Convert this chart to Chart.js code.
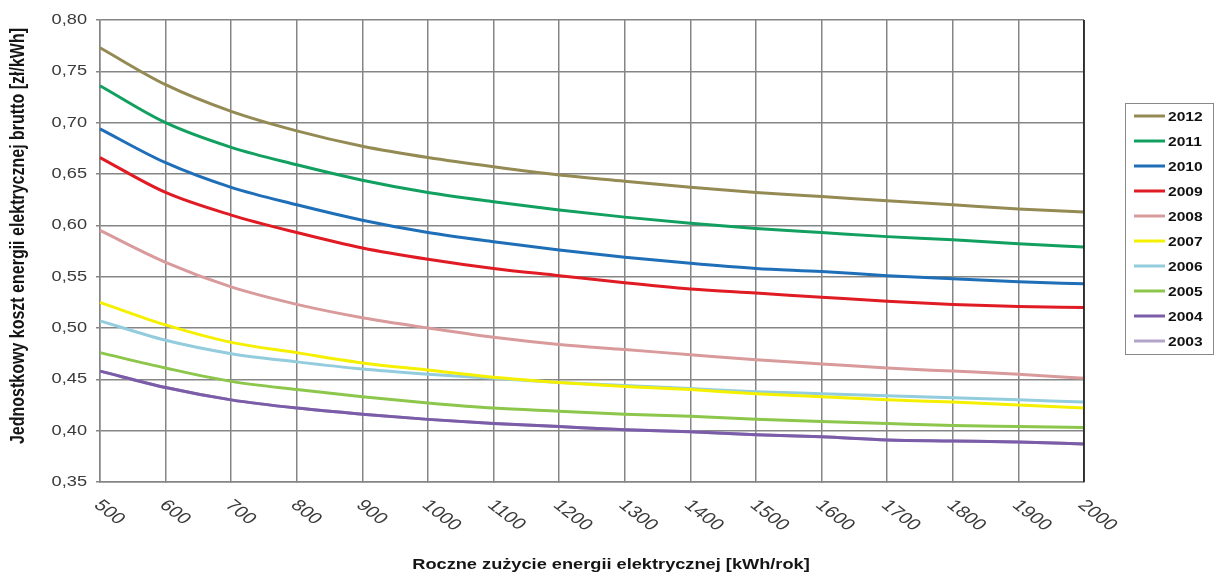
<!DOCTYPE html>
<html>
<head>
<meta charset="utf-8">
<script src="https://cdn.jsdelivr.net/npm/chart.js@4.4.0/dist/chart.umd.min.js"></script>
<style>
    html, body { margin: 0; padding: 0; background: #fff; }
    #wrap { width: 1215px; height: 576px; }
</style>
</head>
<body>
<div id="wrap"><canvas id="koszt"></canvas></div>
<script>
// Roczne zużycie [kWh/rok]
const zuzycie = [500, 600, 700, 800, 900, 1000, 1100, 1200, 1300, 1400, 1500, 1600, 1700, 1800, 1900, 2000];

// Jednostkowy koszt brutto [zł/kWh] dla kolejnych lat
const r2012 = [0.773, 0.737, 0.711, 0.692, 0.677, 0.666, 0.657, 0.649, 0.643, 0.637, 0.632, 0.628, 0.624, 0.620, 0.616, 0.613];
const r2011 = [0.736, 0.700, 0.676, 0.659, 0.644, 0.632, 0.623, 0.615, 0.608, 0.602, 0.597, 0.593, 0.589, 0.586, 0.582, 0.579];
const r2010 = [0.694, 0.661, 0.637, 0.620, 0.605, 0.593, 0.584, 0.576, 0.569, 0.563, 0.558, 0.555, 0.551, 0.548, 0.545, 0.543];
const r2009 = [0.666, 0.632, 0.610, 0.593, 0.578, 0.567, 0.558, 0.551, 0.544, 0.538, 0.534, 0.530, 0.526, 0.523, 0.521, 0.520];
const r2008 = [0.595, 0.564, 0.540, 0.523, 0.510, 0.500, 0.491, 0.484, 0.479, 0.474, 0.469, 0.465, 0.461, 0.458, 0.455, 0.451];
const r2007 = [0.525, 0.503, 0.486, 0.476, 0.466, 0.459, 0.452, 0.447, 0.443, 0.440, 0.436, 0.433, 0.430, 0.428, 0.425, 0.422];
const r2006 = [0.507, 0.488, 0.475, 0.467, 0.460, 0.455, 0.451, 0.447, 0.444, 0.441, 0.438, 0.436, 0.434, 0.432, 0.430, 0.428];
const r2005 = [0.476, 0.461, 0.448, 0.440, 0.433, 0.427, 0.422, 0.419, 0.416, 0.414, 0.411, 0.409, 0.407, 0.405, 0.404, 0.403];
const r2004 = [0.458, 0.442, 0.430, 0.422, 0.416, 0.411, 0.407, 0.404, 0.401, 0.399, 0.396, 0.394, 0.391, 0.390, 0.389, 0.387];
const r2003 = [0.458, 0.442, 0.430, 0.422, 0.416, 0.411, 0.407, 0.404, 0.401, 0.399, 0.396, 0.394, 0.391, 0.390, 0.389, 0.387];

const lata = ['2012', '2011', '2010', '2009', '2008', '2007', '2006', '2005', '2004', '2003'];
const serie = [r2012, r2011, r2010, r2009, r2008, r2007, r2006, r2005, r2004, r2003];
const kolory = ['#948a54', '#12a060', '#1f6fb8', '#e01b24', '#d99a9c', '#f5f000', '#93cddd', '#8cc64a', '#7a5ca8', '#b3a4c9'];

// Etykiety osi Y (co 0,05)
const osYTicks = [0.35, 0.40, 0.45, 0.50, 0.55, 0.60, 0.65, 0.70, 0.75, 0.80];

const FONT = '"Liberation Sans", Arial, sans-serif';
const STRETCH = 1.3; // oryginał jest rozciągnięty w poziomie

// Tekst rozciągnięty w poziomie, opcjonalnie obrócony
function tekst(ctx, s, x, y, font, align, kat) {
    ctx.save();
    ctx.translate(x, y);
    ctx.scale(STRETCH, 1);
    if (kat) ctx.rotate(kat);
    ctx.font = font;
    ctx.textAlign = align;
    ctx.textBaseline = 'middle';
    ctx.fillText(s, 0, 0);
    ctx.restore();
}

// Opisy osi i etykiety (rysowane ręcznie, bo są rozciągnięte / pochylone w dół)
const opisyOsi = {
    id: 'opisyOsi',
    afterDraw(chart) {
        const ctx = chart.ctx;
        const x = chart.scales.x;
        const y = chart.scales.y;
        const bottom = chart.chartArea.bottom;
        ctx.save();

        ctx.fillStyle = '#3a3a3a';
        osYTicks.forEach(v => {
            tekst(ctx, v.toFixed(2).replace('.', ','), 87, y.getPixelForValue(v), '14px ' + FONT, 'right');
        });

        zuzycie.forEach((v, i) => {
            tekst(ctx, String(v), x.getPixelForValue(i) - 3, bottom + 21, '16px ' + FONT, 'left', Math.PI / 4);
        });

        ctx.fillStyle = '#151515';
        tekst(ctx, 'Roczne zużycie energii elektrycznej [kWh/rok]', 611, 565, 'bold 14px ' + FONT, 'center');
        tekst(ctx, 'Jednostkowy koszt energii elektrycznej brutto [zł/kWh]', 18, 236, 'bold 16px ' + FONT, 'center', -Math.PI / 2);
        ctx.restore();
    }
};

// Legenda w ramce po prawej
const legendaBox = {
    id: 'legendaBox',
    afterDraw(chart) {
        const ctx = chart.ctx;
        const left = 1125, top = 103, w = 88, h = 251;
        ctx.save();
        ctx.fillStyle = '#fff';
        ctx.fillRect(left, top, w, h);
        ctx.strokeStyle = '#888';
        ctx.lineWidth = 1;
        ctx.strokeRect(left + 0.5, top + 0.5, w, h);
        chart.data.datasets.forEach((ds, i) => {
            const yy = top + 13 + i * 25;
            ctx.strokeStyle = ds.borderColor;
            ctx.lineWidth = 3;
            ctx.beginPath();
            ctx.moveTo(left + 9, yy);
            ctx.lineTo(left + 40, yy);
            ctx.stroke();
            ctx.fillStyle = '#111';
            ctx.save();
            ctx.translate(left + 43, yy + 1);
            ctx.scale(1.2, 1);
            ctx.font = 'bold 13px ' + FONT;
            ctx.textBaseline = 'middle';
            ctx.fillText(ds.label, 0, 0);
            ctx.restore();
        });
        ctx.restore();
    }
};

// Czarna prawa krawędź obszaru wykresu
const ramka = {
    id: 'ramka',
    afterDatasetsDraw(chart) {
        const a = chart.chartArea;
        const ctx = chart.ctx;
        ctx.save();
        ctx.strokeStyle = '#111';
        ctx.lineWidth = 1.5;
        ctx.beginPath();
        ctx.moveTo(a.right, a.top);
        ctx.lineTo(a.right, a.bottom);
        ctx.stroke();
        ctx.restore();
    }
};

const datasets = lata.map((rok, i) => ({
    label: rok,
    data: serie[i],
    borderColor: kolory[i],
    backgroundColor: kolory[i],
    borderWidth: 3,
    pointRadius: 0,
    cubicInterpolationMode: 'monotone',
    fill: false
}));

new Chart(document.getElementById('koszt'), {
    type: 'line',
    data: { labels: zuzycie, datasets },
    options: {
        responsive: true,
        maintainAspectRatio: false,
        animation: false,
        layout: { padding: { left: 4, right: 131, top: 20, bottom: 4 } },
        plugins: {
            legend: { display: false },
            tooltip: { enabled: false }
        },
        scales: {
            x: {
                offset: false,
                afterFit: (s) => { s.height = 90; },
                grid: { color: '#858585', lineWidth: 1.5, tickLength: 0 },
                border: { color: '#858585', width: 1.5 },
                ticks: { display: false }
            },
            y: {
                min: 0.35,
                max: 0.80,
                afterFit: (s) => { s.width = 96; },
                grid: { color: '#858585', lineWidth: 1.5, tickLength: 4 },
                border: { color: '#858585', width: 1.5 },
                ticks: { display: false, stepSize: 0.05 }
            }
        }
    },
    plugins: [ramka, opisyOsi, legendaBox]
});
</script>
</body>
</html>
